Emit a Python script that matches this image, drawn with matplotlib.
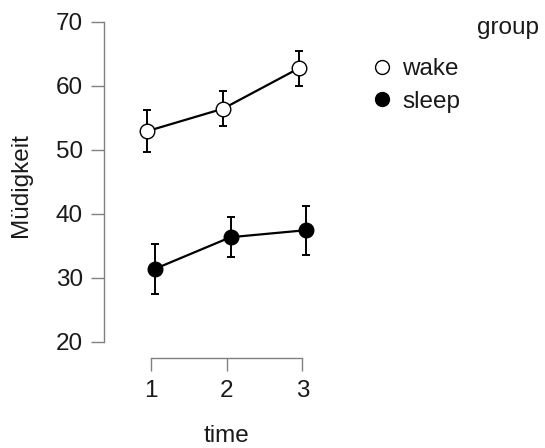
import matplotlib

matplotlib.use("Agg")
import matplotlib.pyplot as plt
from matplotlib.lines import Line2D

plt.rcParams["font.family"] = ["Liberation Sans", "DejaVu Sans"]

TIME = [1, 2, 3]
GROUPS = ["wake", "sleep"]
WAKE_MEAN = [52.9, 56.4, 62.7]
WAKE_ERR = [3.3, 2.75, 2.7]
SLEEP_MEAN = [31.4, 36.35, 37.45]
SLEEP_ERR = [3.9, 3.15, 3.8]
Y_TICKS = [20, 30, 40, 50, 60, 70]

DODGE = 0.05
TEXT_SIZE = 17.5
AXIS_GREY = "#808080"


def draw_group(ax, offset, means, errs, face):
    xs = [t + offset for t in TIME]
    ax.errorbar(xs, means, yerr=errs, fmt="none", ecolor="black",
                elinewidth=1.4, capsize=2.9, capthick=1.4, zorder=2)
    ax.plot(xs, means, color="black", linewidth=1.6, marker="o",
            markersize=10.5, markerfacecolor=face, markeredgecolor="black",
            markeredgewidth=1.0, zorder=3, clip_on=False)


def main() -> None:
    fig = plt.figure(figsize=(5.45, 4.48), dpi=100)
    ax = fig.add_axes([0.1917, 0.2009, 0.4138, 0.7768])

    draw_group(ax, -DODGE, WAKE_MEAN, WAKE_ERR, "white")
    draw_group(ax, DODGE, SLEEP_MEAN, SLEEP_ERR, "black")

    ax.set_xlim(0.386, 3.363)
    ax.set_ylim(17.5, 71.81)
    ax.set_xticks(TIME)
    ax.set_yticks(Y_TICKS)

    for side in ("top", "right"):
        ax.spines[side].set_visible(False)
    ax.spines["left"].set_bounds(Y_TICKS[0], Y_TICKS[-1])
    ax.spines["bottom"].set_bounds(TIME[0], TIME[-1])
    for side in ("left", "bottom"):
        ax.spines[side].set_color(AXIS_GREY)
        ax.spines[side].set_linewidth(1.0)

    ax.tick_params(axis="both", length=9.5, width=1.0, color=AXIS_GREY,
                   labelsize=TEXT_SIZE, labelcolor="#1a1a1a", pad=6)

    fig.text(21 / 545, 1 - 185 / 448, "Müdigkeit", rotation=90,
             ha="center", va="center", fontsize=TEXT_SIZE, color="#1a1a1a")
    fig.text(227 / 545, 1 - 436 / 448, "time", ha="center", va="center",
             fontsize=TEXT_SIZE, color="#1a1a1a")

    fig.text(539 / 545, 1 - 28 / 448, "group", ha="right", va="center",
             fontsize=TEXT_SIZE, color="#1a1a1a")
    handles = [
        Line2D([], [], linestyle="none", marker="o", markersize=10,
               markerfacecolor=face, markeredgecolor="black",
               markeredgewidth=1.0)
        for face in ("white", "black")
    ]
    fig.legend(handles, GROUPS, loc="upper left",
               bbox_to_anchor=(372 / 545, 1 - 58 / 448),
               bbox_transform=fig.transFigure, frameon=False,
               fontsize=TEXT_SIZE, handlelength=0.8, handletextpad=0.45,
               labelspacing=0.45, borderpad=0, borderaxespad=0,
               labelcolor="#1a1a1a")

    fig.savefig("out.png", dpi=100)


if __name__ == "__main__":
    main()
